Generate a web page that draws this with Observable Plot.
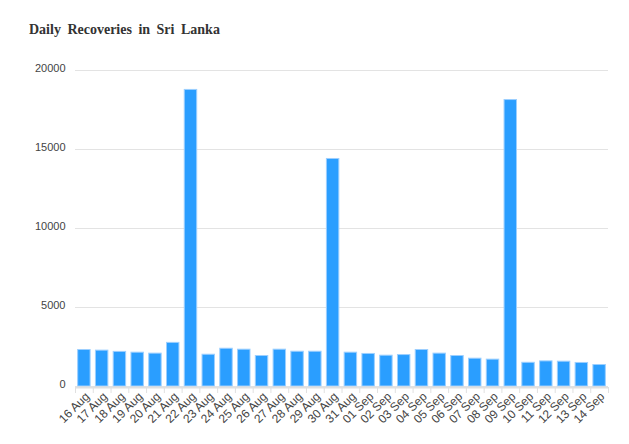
<!DOCTYPE html>
<html>
<head>
<meta charset="utf-8">
<script src="https://cdn.jsdelivr.net/npm/d3@7"></script>
<script src="https://cdn.jsdelivr.net/npm/@observablehq/plot@0.6"></script>
<style>
  body { margin: 0; background: #fff; }
  #title { height: 50px; box-sizing: border-box; padding: 23px 0 0 29px; font-family: "Liberation Serif", "Times New Roman", serif; font-weight: bold; font-size: 14px; color: #333; word-spacing: 3px; line-height: 14px; }
</style>
</head>
<body>
<div id="title">Daily Recoveries in Sri Lanka</div>
<div id="chart"></div>
<script>
const dates = ["16 Aug","17 Aug","18 Aug","19 Aug","20 Aug","21 Aug","22 Aug","23 Aug","24 Aug","25 Aug","26 Aug","27 Aug","28 Aug","29 Aug","30 Aug","31 Aug","01 Sep","02 Sep","03 Sep","04 Sep","05 Sep","06 Sep","07 Sep","08 Sep","09 Sep","10 Sep","11 Sep","12 Sep","13 Sep","14 Sep"];
const recoveries = [2310,2270,2190,2140,2080,2760,18770,2010,2390,2330,1930,2330,2200,2200,14400,2140,2060,1950,1990,2310,2080,1930,1760,1700,18130,1500,1590,1570,1490,1360];
const yTicks = [0,5000,10000,15000,20000];

const data = dates.map((d, i) => ({date: d, value: recoveries[i]}));
const W = 629, H = 394, mL = 75, mR = 21;
const step = (W - mL - mR) / dates.length;

const chart = Plot.plot({
  width: W, height: H,
  marginLeft: mL, marginRight: mR, marginTop: 20, marginBottom: 58,
  style: {fontFamily: "'Liberation Sans', Arial, sans-serif", fontSize: "11px", color: "#444", background: "#fff"},
  x: {type: "band", domain: dates, paddingInner: 0.3, paddingOuter: 0.15, round: false, label: null},
  y: {domain: [0, 20000], label: null},
  marks: [
    Plot.gridY(yTicks, {stroke: "#e3e3e3", strokeOpacity: 1, strokeWidth: 1}),
    Plot.barY(data, {x: "date", y: "value", fill: "#2a9eff", stroke: "#9ccfff", strokeWidth: 1}),
    Plot.ruleY([0], {stroke: "#e0e0e0", strokeWidth: 2, dy: 1}),
    Plot.axisY(yTicks, {tickSize: 0, tickPadding: 10, fontSize: 11, fill: "#444", dy: -2, tickFormat: d => String(d)}),
    Plot.axisX({tickSize: 6, tickFormat: null, dx: -step / 2, stroke: "#e0e0e0", dy: 1}),
    Plot.axisX([dates[dates.length - 1]], {tickSize: 6, tickFormat: null, dx: step / 2, stroke: "#e0e0e0", dy: 1}),
    Plot.axisX({tickSize: 0, tickPadding: 8, tickRotate: -45, fontSize: 12, fill: "#444", dx: 3})
  ]
});
document.getElementById("chart").appendChild(chart);
</script>
</body>
</html>
